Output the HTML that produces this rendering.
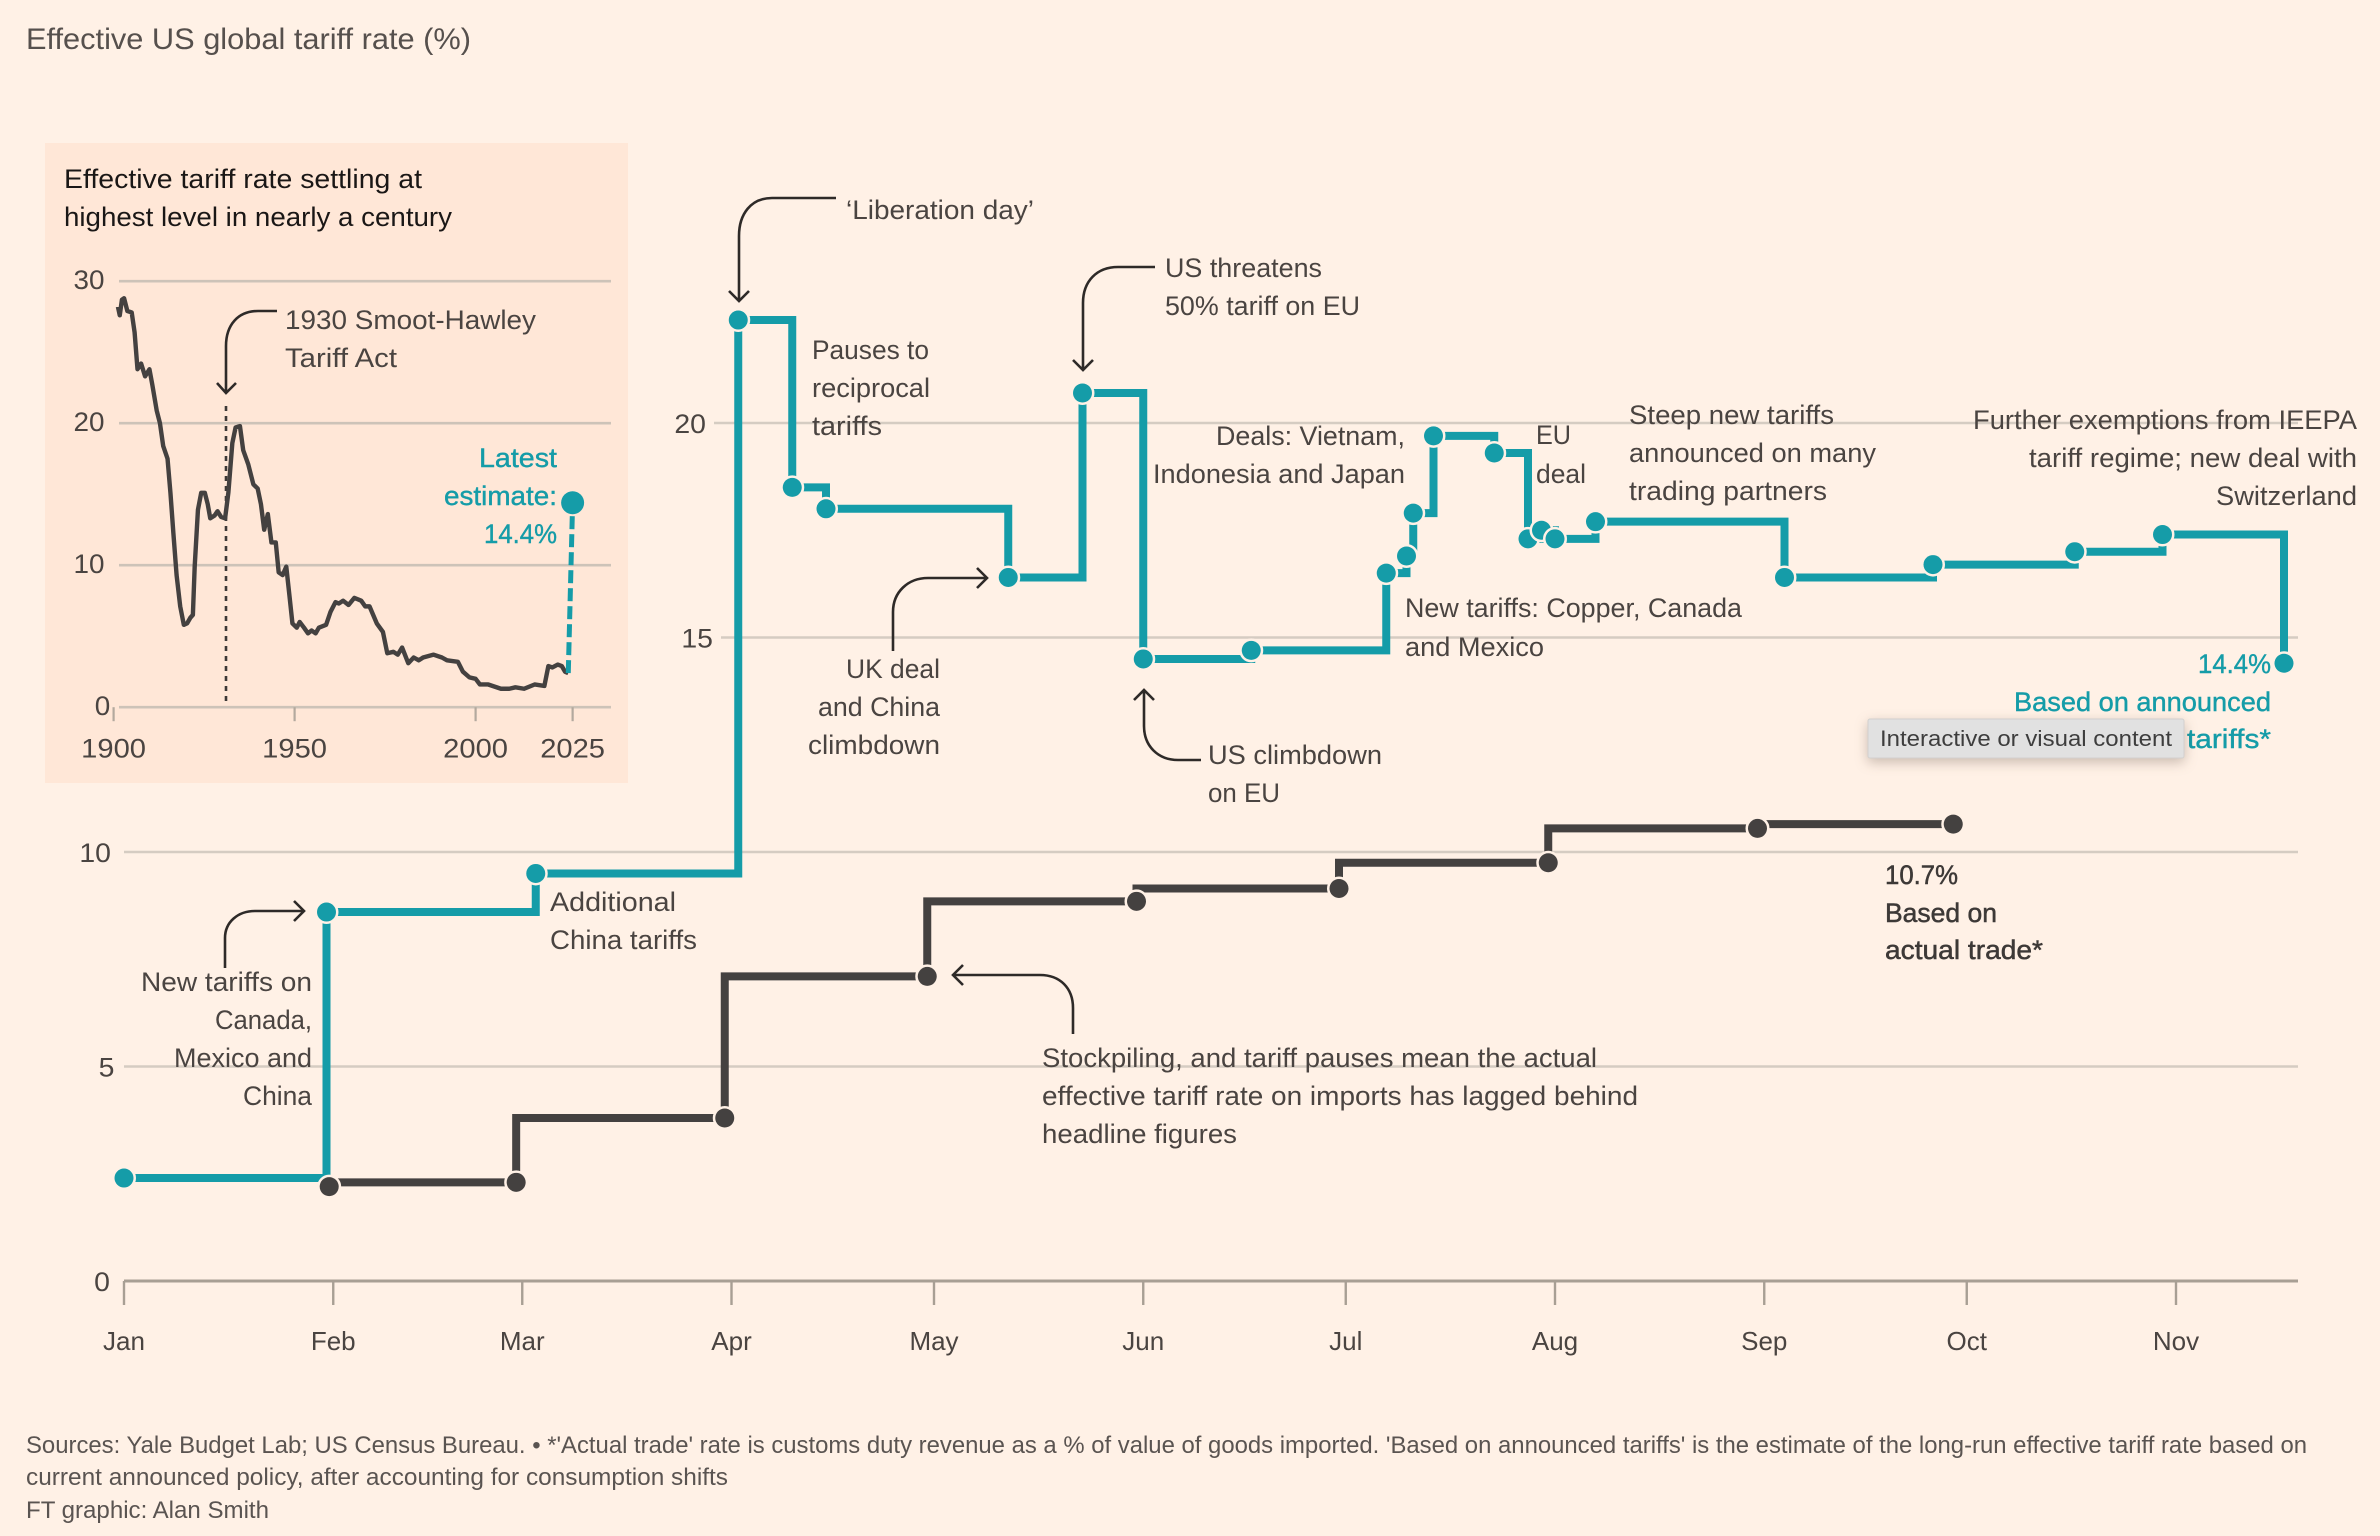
<!DOCTYPE html>
<html lang="en">
<head>
<meta charset="utf-8">
<title>Effective US global tariff rate</title>
<style>
  html, body { margin: 0; padding: 0; background: #fff1e6; }
  svg { display: block; font-family: "Liberation Sans", sans-serif; }
  .t { font-size: 27px; fill: #4a4441; }
  .tk { font-size: 27px; fill: #4a4441; }
  .ft { font-size: 24px; fill: #5a5451; }
  .teal { fill: #159ca8; stroke: #159ca8; stroke-width: .4px; }
  .dk { fill: #3d3937; stroke: #3d3937; stroke-width: .5px; }
  .arrow { fill: none; stroke: #2e2a28; stroke-width: 2.6; }
</style>
</head>
<body>
<svg id="chart" xmlns="http://www.w3.org/2000/svg" width="2380" height="1536" viewBox="0 0 2380 1536">
  <rect x="0" y="0" width="2380" height="1536" fill="#fff1e6"/>
  <text x="26" y="49" font-size="30" fill="#56504d" textLength="445" lengthAdjust="spacingAndGlyphs">Effective US global tariff rate (%)</text>

  <g id="main-grid"></g>
  <g id="main-axis"></g>

  <g>
    <text class="t" x="846" y="219" textLength="188" lengthAdjust="spacingAndGlyphs">‘Liberation day’</text>
    <text class="t" x="812" y="359" textLength="117" lengthAdjust="spacingAndGlyphs">Pauses to</text>
    <text class="t" x="812" y="397" textLength="118" lengthAdjust="spacingAndGlyphs">reciprocal</text>
    <text class="t" x="812" y="435" textLength="70" lengthAdjust="spacingAndGlyphs">tariffs</text>
    <text class="t" x="1165" y="277" textLength="157" lengthAdjust="spacingAndGlyphs">US threatens</text>
    <text class="t" x="1165" y="315" textLength="195" lengthAdjust="spacingAndGlyphs">50% tariff on EU</text>
    <text class="t" x="1216" y="445" textLength="189" lengthAdjust="spacingAndGlyphs">Deals: Vietnam,</text>
    <text class="t" x="1153" y="483" textLength="252" lengthAdjust="spacingAndGlyphs">Indonesia and Japan</text>
    <text class="t" x="846" y="678" textLength="94" lengthAdjust="spacingAndGlyphs">UK deal</text>
    <text class="t" x="818" y="716" textLength="122" lengthAdjust="spacingAndGlyphs">and China</text>
    <text class="t" x="808" y="754" textLength="132" lengthAdjust="spacingAndGlyphs">climbdown</text>
    <text class="t" x="1208" y="764" textLength="174" lengthAdjust="spacingAndGlyphs">US climbdown</text>
    <text class="t" x="1208" y="802" textLength="72" lengthAdjust="spacingAndGlyphs">on EU</text>
    <text class="t" x="1536" y="444" textLength="35" lengthAdjust="spacingAndGlyphs">EU</text>
    <text class="t" x="1536" y="483" textLength="50" lengthAdjust="spacingAndGlyphs">deal</text>
    <text class="t" x="1629" y="424" textLength="205" lengthAdjust="spacingAndGlyphs">Steep new tariffs</text>
    <text class="t" x="1629" y="462" textLength="247" lengthAdjust="spacingAndGlyphs">announced on many</text>
    <text class="t" x="1629" y="500" textLength="198" lengthAdjust="spacingAndGlyphs">trading partners</text>
    <text class="t" x="1973" y="429" textLength="384" lengthAdjust="spacingAndGlyphs">Further exemptions from IEEPA</text>
    <text class="t" x="2029" y="467" textLength="328" lengthAdjust="spacingAndGlyphs">tariff regime; new deal with</text>
    <text class="t" x="2216" y="505" textLength="141" lengthAdjust="spacingAndGlyphs">Switzerland</text>
    <text class="t" x="1405" y="617" textLength="337" lengthAdjust="spacingAndGlyphs">New tariffs: Copper, Canada</text>
    <text class="t" x="1405" y="656" textLength="139" lengthAdjust="spacingAndGlyphs">and Mexico</text>
    <text class="t" x="550" y="911" textLength="126" lengthAdjust="spacingAndGlyphs">Additional</text>
    <text class="t" x="550" y="949" textLength="147" lengthAdjust="spacingAndGlyphs">China tariffs</text>
    <text class="t" x="141" y="991" textLength="171" lengthAdjust="spacingAndGlyphs">New tariffs on</text>
    <text class="t" x="215" y="1029" textLength="97" lengthAdjust="spacingAndGlyphs">Canada,</text>
    <text class="t" x="174" y="1067" textLength="138" lengthAdjust="spacingAndGlyphs">Mexico and</text>
    <text class="t" x="243" y="1105" textLength="69" lengthAdjust="spacingAndGlyphs">China</text>
    <text class="t" x="1042" y="1067" textLength="555" lengthAdjust="spacingAndGlyphs">Stockpiling, and tariff pauses mean the actual</text>
    <text class="t" x="1042" y="1105" textLength="596" lengthAdjust="spacingAndGlyphs">effective tariff rate on imports has lagged behind</text>
    <text class="t" x="1042" y="1143" textLength="195" lengthAdjust="spacingAndGlyphs">headline figures</text>
  </g>

  <g>
    <path class="arrow" d="M836 198H772C751 198 739 214 739 236V300M729 291L739 301L749 291"/>
    <path class="arrow" d="M1155 267H1118C1097 267 1083 281 1083 303V369M1073 360L1083 370L1093 360"/>
    <path class="arrow" d="M893 651V612C893 592 908 578 928 578H987M977 568L987 578L977 588"/>
    <path class="arrow" d="M1201 760H1178C1158 760 1144 746 1144 726V690M1134 700L1144 690L1154 700"/>
    <path class="arrow" d="M225 968V938C225 922 238 911 255 911H304M294 901L304 911L294 921"/>
    <path class="arrow" d="M1073 1034V1008C1073 988 1060 975 1040 975H953M963 965L953 975L963 985"/>
  </g>

  <g id="teal-series"></g>
  <g id="dark-series"></g>

  <g>
    <text class="t teal" x="2198" y="673" textLength="73" lengthAdjust="spacingAndGlyphs">14.4%</text>
    <text class="t teal" x="2014" y="711" textLength="257" lengthAdjust="spacingAndGlyphs">Based on announced</text>
    <text class="t teal" x="2187" y="748" textLength="84" lengthAdjust="spacingAndGlyphs">tariffs*</text>
    <text class="t dk" x="1885" y="884" textLength="73" lengthAdjust="spacingAndGlyphs">10.7%</text>
    <text class="t dk" x="1885" y="922" textLength="112" lengthAdjust="spacingAndGlyphs">Based on</text>
    <text class="t dk" x="1885" y="959" textLength="158" lengthAdjust="spacingAndGlyphs">actual trade*</text>
  </g>

  <g>
    <rect x="1868" y="719" width="316" height="39" rx="2" fill="#e1e1e1" stroke="#d2d0ce" stroke-width="1" style="filter:drop-shadow(0 4px 6px rgba(70,50,40,.28))"/>
    <text x="1880" y="746" font-size="22" fill="#3d3d3d" textLength="292" lengthAdjust="spacingAndGlyphs">Interactive or visual content</text>
  </g>

  <g>
    <rect x="45" y="143" width="583" height="640" fill="#ffe7d7"/>
    <text x="64" y="188" font-size="27" fill="#1a1716" textLength="358" lengthAdjust="spacingAndGlyphs">Effective tariff rate settling at</text>
    <text x="64" y="226" font-size="27" fill="#1a1716" textLength="388" lengthAdjust="spacingAndGlyphs">highest level in nearly a century</text>
    <g id="inset-axes"></g>
    <line x1="226" y1="406" x2="226" y2="703" stroke="#3d3937" stroke-width="2.6" stroke-dasharray="5 5"/>
    <path class="arrow" d="M277 311H258C238 311 226 325 226 346V392M217 383L226 393L236 383"/>
    <text class="t" x="285" y="329" textLength="251" lengthAdjust="spacingAndGlyphs">1930 Smoot-Hawley</text>
    <text class="t" x="285" y="367" textLength="112" lengthAdjust="spacingAndGlyphs">Tariff Act</text>
    <g id="inset-series"></g>
    <text class="t teal" x="479" y="467" textLength="78" lengthAdjust="spacingAndGlyphs">Latest</text>
    <text class="t teal" x="444" y="505" textLength="113" lengthAdjust="spacingAndGlyphs">estimate:</text>
    <text class="t teal" x="484" y="543" textLength="73" lengthAdjust="spacingAndGlyphs">14.4%</text>
  </g>

  <g>
    <text class="ft" x="26" y="1453" textLength="2281" lengthAdjust="spacingAndGlyphs">Sources: Yale Budget Lab; US Census Bureau. • *'Actual trade' rate is customs duty revenue as a % of value of goods imported. 'Based on announced tariffs' is the estimate of the long-run effective tariff rate based on</text>
    <text class="ft" x="26" y="1485" textLength="702" lengthAdjust="spacingAndGlyphs">current announced policy, after accounting for consumption shifts</text>
    <text class="ft" x="26" y="1518" textLength="243" lengthAdjust="spacingAndGlyphs">FT graphic: Alan Smith</text>
  </g>
</svg>

<script>
// Main chart data (days since 1 Jan 2025, rate in %)
const monthLabels = ['Jan','Feb','Mar','Apr','May','Jun','Jul','Aug','Sep','Oct','Nov'];
const monthDays = [0,31,59,90,120,151,181,212,243,273,304];
const yTicks = [0,5,10,15,20];
const announcedDays = [0,30,61,91,99,104,131,142,151,167,187,190,191,194,203,208,210,212,218,246,268,289,302,320];
const announcedRates = [2.4,8.6,9.5,22.4,18.5,18.0,16.4,20.7,14.5,14.7,16.5,16.9,17.9,19.7,19.3,17.3,17.5,17.3,17.7,16.4,16.7,17.0,17.4,14.4];
const actualDays = [30.4,58.1,89,119,150,180,211,242,271];
const actualRates = [2.2,2.3,3.8,7.1,8.85,9.15,9.75,10.55,10.65];

// Inset data
const insetYearTicks = [1900,1950,2000,2026.8];
const insetYearLabels = ['1900','1950','2000','2025'];
const insetValueTicks = [0,10,20,30];
const historicYears = [1901.2,1901.7,1902.3,1902.9,1903.8,1905,1905.8,1906.6,1907.6,1908.7,1909.9,1910.7,1911.9,1912.8,1913.7,1914.9,1915.7,1916.5,1917.4,1918.4,1919.4,1920.3,1921.2,1921.9,1922.4,1923.3,1924.2,1925.2,1926,1926.7,1927.9,1928.7,1929.7,1930.8,1931.7,1932.8,1933.7,1934.9,1935.8,1937.2,1938.6,1939.8,1940.7,1941.6,1942.6,1943.6,1944.8,1945.6,1946.7,1947.7,1948.6,1949.4,1950.6,1951.4,1952.6,1953.7,1954.7,1955.8,1956.7,1958.7,1959.9,1961.3,1962.2,1963.4,1964.9,1966.5,1968.4,1969.5,1970.7,1972.7,1974.4,1975.6,1977.3,1978.5,1979.7,1981.4,1982.9,1984.3,1985.5,1988.4,1990.7,1992.1,1995.1,1996.5,1998.3,2000,2001.2,2003.5,2007,2009.3,2011,2013.4,2016.3,2019,2020.1,2021.2,2022.7,2023.8,2024.7,2025.6];
const historicRates = [28.2,27.6,28.7,28.8,27.9,27.8,26.4,23.8,24.2,23.3,23.8,22.7,20.9,20.0,18.4,17.5,15.1,12.3,9.3,7.1,5.8,5.9,6.3,6.5,9.9,13.9,15.1,15.1,14.3,13.3,13.5,13.8,13.4,13.3,15.1,18.6,19.7,19.8,18.1,17.1,15.7,15.4,14.3,12.5,13.6,11.6,11.6,9.5,9.3,9.9,7.8,5.9,5.6,6.0,5.6,5.2,5.4,5.2,5.6,5.8,6.7,7.4,7.3,7.5,7.2,7.7,7.5,7.1,7.1,5.9,5.3,3.8,3.9,3.7,4.2,3.1,3.5,3.3,3.5,3.7,3.5,3.3,3.2,2.5,2.1,2.0,1.6,1.6,1.3,1.3,1.4,1.3,1.6,1.5,2.9,2.8,3.0,2.9,2.5,2.4];
const latestYear = 2026.8;
const latestRate = 14.4;

const NS = 'http://www.w3.org/2000/svg';
const TEAL = '#159ca8', DARK = '#444140', BG = '#fff1e6';
const xMain = d => 124 + d * 6.75;
const yMain = v => 1281 - v * 42.9;
const xInset = yr => 113.6 + (yr - 1900) * 3.62;
const yInset = v => 707.2 - v * 14.2;

function el(tag, attrs) {
  const node = document.createElementNS(NS, tag);
  for (const k in attrs) node.setAttribute(k, attrs[k]);
  return node;
}
const gridStart = v => (v === 20 ? 714 : v === 15 ? 721 : 124);
const labelRight = v => (v === 0 ? 110 : v === 5 ? 114.5 : v === 10 ? 111 : gridStart(v) - 8);

// Main gridlines and y labels
const gridG = document.getElementById('main-grid');
yTicks.forEach(v => {
  const left = gridStart(v);
  const gl = el('line', {x1: left, x2: 2298, y1: yMain(v), y2: yMain(v), stroke: v === 0 ? '#a89f94' : '#d5ccc2', 'stroke-width': v === 0 ? 3 : 2.6});
  
  
  gridG.appendChild(gl);
  const lab = el('text', {x: labelRight(v), y: yMain(v) + 10, 'text-anchor': 'end', 'class': 'tk', textLength: String(v).length * 15.8, lengthAdjust: 'spacingAndGlyphs'});
  
  
  lab.textContent = v;
  gridG.appendChild(lab);
});

// Main x axis ticks and labels
const axisG = document.getElementById('main-axis');
monthDays.forEach((d, i) => {
  const tick = el('line', {x1: xMain(d), x2: xMain(d), y1: 1281, y2: 1305, stroke: '#a89f94', 'stroke-width': 2.4});
  
  
  axisG.appendChild(tick);
  const lab = el('text', {x: xMain(d), y: 1350, 'text-anchor': 'middle', 'class': 'tk', style: 'font-size:26px'});
  
  
  lab.textContent = monthLabels[i];
  axisG.appendChild(lab);
});

// Step paths: announced runs horizontal then vertical; actual runs vertical then horizontal
function stepAfter(days, rates) {
  let d = 'M' + xMain(days[0]) + ' ' + yMain(rates[0]);
  for (let i = 1; i < days.length; i++) {
    d += 'H' + xMain(days[i]) + 'V' + yMain(rates[i]);
  }
  return d;
}
function stepBefore(days, rates) {
  let d = 'M' + xMain(days[0]) + ' ' + yMain(rates[0]);
  for (let i = 1; i < days.length; i++) {
    d += 'V' + yMain(rates[i]) + 'H' + xMain(days[i]);
  }
  return d;
}
function drawSeries(groupId, pathD, days, rates, color, label) {
  const g = document.getElementById(groupId);
  const line = el('path', {d: pathD, fill: 'none', stroke: color, 'stroke-width': 8, 'stroke-linejoin': 'miter', 'stroke-linecap': 'butt'});
  
  
  g.appendChild(line);
  days.forEach((d, i) => {
    const dot = el('circle', {cx: xMain(d), cy: yMain(rates[i]), r: 9.5, fill: color, stroke: BG, 'stroke-width': 5, 'paint-order': 'stroke'});
    
    
    g.appendChild(dot);
  });
}
drawSeries('teal-series', stepAfter(announcedDays, announcedRates), announcedDays, announcedRates, TEAL, 'announced');
drawSeries('dark-series', stepBefore(actualDays, actualRates), actualDays, actualRates, DARK, 'actual');

// Inset axes
const insetAxes = document.getElementById('inset-axes');
insetValueTicks.forEach(v => {
  const gl = el('line', {x1: 119, x2: 611, y1: yInset(v), y2: yInset(v), stroke: '#cdc3b8', 'stroke-width': 2.6});
  
  
  insetAxes.appendChild(gl);
  const lab = el('text', {x: v === 0 ? 110.3 : 104.5, y: yInset(v) + 8, 'text-anchor': 'end', 'class': 'tk', textLength: String(v).length * 15.5, lengthAdjust: 'spacingAndGlyphs'});
  
  
  lab.textContent = v;
  insetAxes.appendChild(lab);
});
insetYearTicks.forEach((yr, i) => {
  const tick = el('line', {x1: xInset(yr), x2: xInset(yr), y1: yInset(0), y2: yInset(0) + 14, stroke: '#b3a99e', 'stroke-width': 2.2});
  
  
  insetAxes.appendChild(tick);
  const lab = el('text', {x: xInset(yr), y: 757.5, 'text-anchor': 'middle', 'class': 'tk', textLength: 64.8, lengthAdjust: 'spacingAndGlyphs'});
  
  
  lab.textContent = insetYearLabels[i];
  insetAxes.appendChild(lab);
});

// Inset line
const insetG = document.getElementById('inset-series');
const histPts = historicYears.map((yr, i) => xInset(yr) + ',' + yInset(historicRates[i])).join(' ');
const histLine = el('polyline', {points: histPts, fill: 'none', stroke: DARK, 'stroke-width': 4.4, 'stroke-linejoin': 'round'});


insetG.appendChild(histLine);
const lastY = historicYears[historicYears.length - 1];
const lastR = historicRates[historicRates.length - 1];
const dash = el('line', {x1: xInset(lastY), y1: yInset(lastR), x2: xInset(latestYear), y2: yInset(latestRate), stroke: TEAL, 'stroke-width': 5, 'stroke-dasharray': '13 5'});


insetG.appendChild(dash);
const latestDot = el('circle', {cx: xInset(latestYear), cy: yInset(latestRate), r: 11.5, fill: TEAL});


insetG.appendChild(latestDot);
</script>
</body>
</html>
